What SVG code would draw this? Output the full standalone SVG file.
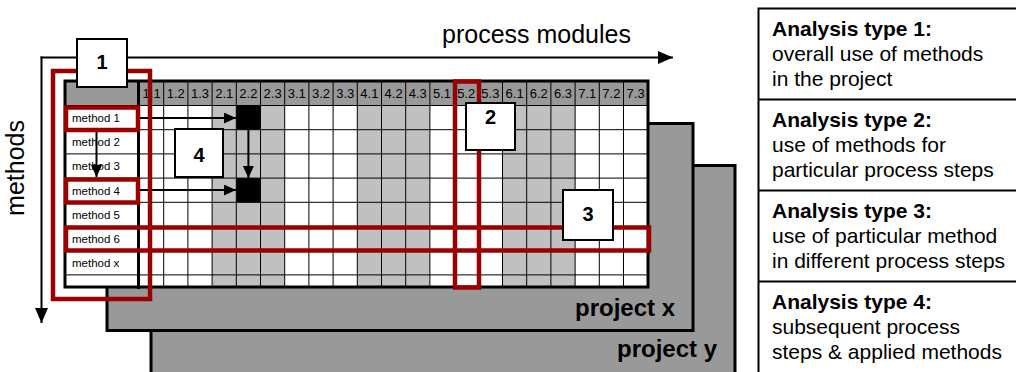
<svg xmlns="http://www.w3.org/2000/svg" width="1016" height="372" viewBox="0 0 1016 372">
  <style>
    text { font-family: "Liberation Sans", Arial, sans-serif; fill: #000; }
    .plate { fill: #999999; stroke: #000; stroke-width: 3; }
    .plate-label { font-size: 24px; font-weight: bold; text-anchor: end; }
    .hdr { font-size: 13px; text-anchor: middle; }
    .meth { font-size: 11.5px; }
    .thin { stroke: #000; stroke-width: 1; fill: none; }
    .thick { stroke: #000; stroke-width: 3; fill: none; }
    .sel { fill: none; stroke: #990000; stroke-width: 4.5; }
    .numbox { fill: #fff; stroke: #000; stroke-width: 2; }
    .num { font-size: 20px; font-weight: bold; text-anchor: middle; }
    .conn { stroke: #000; stroke-width: 2; fill: none; }
    .axis { font-size: 25px; }
    .panel-line { stroke: #000; stroke-width: 2; fill: none; }
    .ph { font-size: 21px; font-weight: bold; }
    .pt { font-size: 21px; }
  </style>
  <defs>
    <marker id="head-small" markerUnits="userSpaceOnUse" markerWidth="12" markerHeight="11" refX="12" refY="5.5" orient="auto">
      <path d="M0,0 L12,5.5 L0,11 Z" fill="#000"/>
    </marker>
    <marker id="head-large" markerUnits="userSpaceOnUse" markerWidth="15" markerHeight="13" refX="15" refY="6.5" orient="auto">
      <path d="M0,0 L15,6.5 L0,13 Z" fill="#000"/>
    </marker>
  </defs>

  <!-- stacked project sheets -->
  <g id="project-y">
    <rect class="plate" x="151" y="165.5" width="584" height="212"/>
    <text class="plate-label" x="717" y="357">project y</text>
  </g>
  <g id="project-x">
    <rect class="plate" x="107" y="123.5" width="586" height="207"/>
    <text class="plate-label" x="675" y="316">project x</text>
  </g>

  <!-- method / process-step matrix -->
  <g id="matrix">
    <rect x="65" y="81" width="583" height="206" fill="#fff"/>
    <!-- header band -->
    <rect x="65" y="81" width="583" height="24.5" fill="#999999"/>
    <!-- shaded process modules 2, 4, 6 -->
    <rect x="212.1" y="105.5" width="72.6" height="181.5" fill="#c0c0c0"/>
    <rect x="357.3" y="105.5" width="72.6" height="181.5" fill="#c0c0c0"/>
    <rect x="502.5" y="105.5" width="72.6" height="181.5" fill="#c0c0c0"/>
    <!-- applied methods -->
    <rect x="236.3" y="105.5" width="24.2" height="24.2" fill="#000"/>
    <rect x="236.3" y="178.1" width="24.2" height="24.2" fill="#000"/>
    <!-- row rules -->
    <path class="thin" d="M65,105.5H648 M65,129.7H648 M65,153.9H648 M65,178.1H648 M65,202.3H648 M65,226.5H648 M65,250.7H648 M65,274.9H648"/>
    <!-- column rules -->
    <path class="thin" d="M163.7,81V287 M187.9,81V287 M212.1,81V287 M236.3,81V287 M260.5,81V287 M284.7,81V287 M308.9,81V287 M333.1,81V287 M357.3,81V287 M381.5,81V287 M405.7,81V287 M429.9,81V287 M454.1,81V287 M478.3,81V287 M502.5,81V287 M526.7,81V287 M550.9,81V287 M575.1,81V287 M599.3,81V287 M623.5,81V287"/>
    <!-- borders -->
    <rect class="thick" x="65" y="81" width="583" height="206"/>
    <line class="thick" x1="138.5" y1="81" x2="138.5" y2="289"/>
    <!-- process step labels -->
    <text class="hdr" x="151.6" y="98">1.1</text>
    <text class="hdr" x="175.8" y="98">1.2</text>
    <text class="hdr" x="200" y="98">1.3</text>
    <text class="hdr" x="224.2" y="98">2.1</text>
    <text class="hdr" x="248.4" y="98">2.2</text>
    <text class="hdr" x="272.6" y="98">2.3</text>
    <text class="hdr" x="296.8" y="98">3.1</text>
    <text class="hdr" x="321" y="98">3.2</text>
    <text class="hdr" x="345.2" y="98">3.3</text>
    <text class="hdr" x="369.4" y="98">4.1</text>
    <text class="hdr" x="393.6" y="98">4.2</text>
    <text class="hdr" x="417.8" y="98">4.3</text>
    <text class="hdr" x="442" y="98">5.1</text>
    <text class="hdr" x="466.2" y="98">5.2</text>
    <text class="hdr" x="490.4" y="98">5.3</text>
    <text class="hdr" x="514.6" y="98">6.1</text>
    <text class="hdr" x="538.8" y="98">6.2</text>
    <text class="hdr" x="563" y="98">6.3</text>
    <text class="hdr" x="587.2" y="98">7.1</text>
    <text class="hdr" x="611.4" y="98">7.2</text>
    <text class="hdr" x="635.6" y="98">7.3</text>
    <!-- method labels -->
    <text class="meth" x="72" y="122">method 1</text>
    <text class="meth" x="72" y="146.2">method 2</text>
    <text class="meth" x="72" y="170.4">method 3</text>
    <text class="meth" x="72" y="194.6">method 4</text>
    <text class="meth" x="72" y="218.8">method 5</text>
    <text class="meth" x="72" y="243">method 6</text>
    <text class="meth" x="72" y="267.2">method x</text>
  </g>

  <!-- axes -->
  <g id="axes">
    <path class="conn" d="M40.5,57.5 H673" marker-end="url(#head-large)"/>
    <path class="conn" d="M41.5,56.5 V323" marker-end="url(#head-large)"/>
    <text class="axis" x="442" y="43">process modules</text>
    <text class="axis" font-size="26" transform="translate(24,168) rotate(-90)" text-anchor="middle">methods</text>
  </g>

  <!-- sequence arrows -->
  <g id="connectors">
    <line class="conn" x1="140" y1="118" x2="236" y2="118" marker-end="url(#head-small)"/>
    <line class="conn" x1="140" y1="190" x2="236" y2="190" marker-end="url(#head-small)"/>
    <line class="conn" x1="248.4" y1="130" x2="248.4" y2="178" marker-end="url(#head-small)"/>
    <line class="conn" x1="96.5" y1="132" x2="96.5" y2="177" marker-end="url(#head-small)"/>
  </g>

  <!-- analysis selections -->
  <g id="selection-1"><rect class="sel" x="53" y="71" width="97" height="228"/></g>
  <g id="selection-method-1"><rect class="sel" x="66" y="107.5" width="72" height="22.5"/></g>
  <g id="selection-method-4"><rect class="sel" x="66" y="179.5" width="72" height="23"/></g>
  <g id="selection-3"><rect class="sel" x="66" y="227.5" width="583" height="23"/></g>
  <g id="selection-2"><rect class="sel" x="455" y="81.5" width="24" height="206"/></g>

  <!-- analysis type markers -->
  <g id="marker-1">
    <rect class="numbox" x="77" y="39" width="50" height="48"/>
    <text class="num" x="102" y="69">1</text>
  </g>
  <g id="marker-2">
    <rect class="numbox" x="466" y="103" width="49" height="47"/>
    <text class="num" x="490.5" y="124">2</text>
  </g>
  <g id="marker-3">
    <rect class="numbox" x="563" y="190" width="50" height="50"/>
    <text class="num" x="588" y="221">3</text>
  </g>
  <g id="marker-4">
    <rect class="numbox" x="175" y="129" width="48" height="48"/>
    <text class="num" x="199" y="162">4</text>
  </g>

  <!-- legend -->
  <g id="legend">
    <rect class="panel-line" x="758.5" y="8.5" width="270" height="380"/>
    <path class="panel-line" d="M758.5,99.5H1016 M758.5,190.5H1016 M758.5,281.5H1016"/>
  </g>
  <g id="legend-1">
    <text class="ph" x="772" y="36">Analysis type 1:</text>
    <text class="pt" x="772" y="61">overall use of methods</text>
    <text class="pt" x="772" y="86">in the project</text>
  </g>
  <g id="legend-2">
    <text class="ph" x="772" y="127">Analysis type 2:</text>
    <text class="pt" x="772" y="152">use of methods for</text>
    <text class="pt" x="772" y="177">particular process steps</text>
  </g>
  <g id="legend-3">
    <text class="ph" x="772" y="218">Analysis type 3:</text>
    <text class="pt" x="772" y="243">use of particular method</text>
    <text class="pt" x="772" y="268">in different process steps</text>
  </g>
  <g id="legend-4">
    <text class="ph" x="772" y="309">Analysis type 4:</text>
    <text class="pt" x="772" y="334">subsequent process</text>
    <text class="pt" x="772" y="359">steps &amp; applied methods</text>
  </g>
</svg>
